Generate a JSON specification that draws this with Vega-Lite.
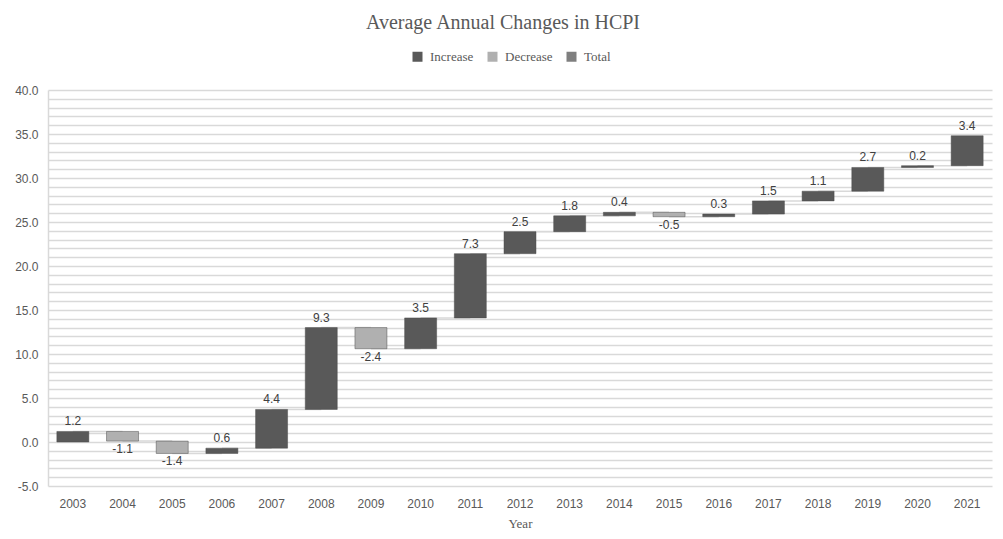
{
  "$schema": "https://vega.github.io/schema/vega-lite/v6.json",
  "width": 944,
  "height": 396,
  "autosize": {"type": "none"},
  "padding": {"left": 48, "top": 90, "right": 11, "bottom": 53},
  "background": "white",
  "title": {
    "text": "Average Annual Changes in HCPI",
    "font": "Liberation Serif",
    "fontSize": 20,
    "fontWeight": "normal",
    "color": "#595959",
    "anchor": "middle",
    "frame": "group",
    "dx": -17,
    "offset": 17
  },
  "config": {
    "view": {"stroke": null},
    "font": "Liberation Sans",
    "locale": {
      "number": {
        "decimal": ".",
        "thousands": ",",
        "grouping": [3],
        "currency": ["$", ""],
        "minus": "-"
      }
    }
  },
  "data": {
    "values": [
      {"year": "2003", "change": 1.2, "start": 0.0, "end": 1.2, "type": "Increase"},
      {"year": "2004", "change": -1.1, "start": 1.2, "end": 0.1, "type": "Decrease"},
      {"year": "2005", "change": -1.4, "start": 0.1, "end": -1.3, "type": "Decrease"},
      {"year": "2006", "change": 0.6, "start": -1.3, "end": -0.7, "type": "Increase"},
      {"year": "2007", "change": 4.4, "start": -0.7, "end": 3.7, "type": "Increase"},
      {"year": "2008", "change": 9.3, "start": 3.7, "end": 13.0, "type": "Increase"},
      {"year": "2009", "change": -2.4, "start": 13.0, "end": 10.6, "type": "Decrease"},
      {"year": "2010", "change": 3.5, "start": 10.6, "end": 14.1, "type": "Increase"},
      {"year": "2011", "change": 7.3, "start": 14.1, "end": 21.4, "type": "Increase"},
      {"year": "2012", "change": 2.5, "start": 21.4, "end": 23.9, "type": "Increase"},
      {"year": "2013", "change": 1.8, "start": 23.9, "end": 25.7, "type": "Increase"},
      {"year": "2014", "change": 0.4, "start": 25.7, "end": 26.1, "type": "Increase"},
      {"year": "2015", "change": -0.5, "start": 26.1, "end": 25.6, "type": "Decrease"},
      {"year": "2016", "change": 0.3, "start": 25.6, "end": 25.9, "type": "Increase"},
      {"year": "2017", "change": 1.5, "start": 25.9, "end": 27.4, "type": "Increase"},
      {"year": "2018", "change": 1.1, "start": 27.4, "end": 28.5, "type": "Increase"},
      {"year": "2019", "change": 2.7, "start": 28.5, "end": 31.2, "type": "Increase"},
      {"year": "2020", "change": 0.2, "start": 31.2, "end": 31.4, "type": "Increase"},
      {"year": "2021", "change": 3.4, "start": 31.4, "end": 34.8, "type": "Increase"}
    ]
  },
  "encoding": {
    "x": {
      "field": "year",
      "type": "ordinal",
      "sort": null,
      "scale": {"paddingInner": 0.356, "paddingOuter": 0.178},
      "axis": {
        "title": "Year",
        "titleFont": "Liberation Serif",
        "titleFontSize": 13,
        "titleFontWeight": "normal",
        "titleColor": "#595959",
        "titlePadding": 8,
        "labelAngle": 0,
        "labelFont": "Liberation Sans",
        "labelFontSize": 12,
        "labelColor": "#595959",
        "labelPadding": 12,
        "ticks": false,
        "domain": false,
        "grid": false
      }
    }
  },
  "layer": [
    {
      "mark": {"type": "rule", "color": "#d9d9d9", "strokeWidth": 1.5},
      "transform": [
        {"window": [{"op": "lead", "field": "year", "as": "next"}]},
        {"filter": "datum.next != null"}
      ],
      "encoding": {
        "x2": {"field": "next"},
        "y": {
          "field": "end",
          "type": "quantitative",
          "scale": {"domain": [-5, 40], "nice": false, "zero": false},
          "axis": {
            "title": null,
            "values": [-5, -4, -3, -2, -1, 0, 1, 2, 3, 4, 5, 6, 7, 8, 9, 10, 11, 12, 13, 14, 15, 16, 17, 18, 19, 20, 21, 22, 23, 24, 25, 26, 27, 28, 29, 30, 31, 32, 33, 34, 35, 36, 37, 38, 39, 40],
            "tickCount": 60,
            "labelExpr": "datum.value % 5 === 0 ? format(datum.value, '.1f') : ''",
            "labelOverlap": false,
            "labelBound": false,
            "labelFlush": false,
            "labelFont": "Liberation Sans",
            "labelFontSize": 12,
            "labelColor": "#595959",
            "labelPadding": 10,
            "ticks": false,
            "grid": true,
            "gridColor": "#d9d9d9",
            "gridWidth": 1.5,
            "domain": true,
            "domainColor": "#d9d9d9",
            "domainWidth": 1.5
          }
        }
      }
    },
    {
      "mark": {"type": "bar", "stroke": "#4a4a4a", "strokeWidth": 0.8, "strokeOpacity": 0.6},
      "encoding": {
        "y": {"field": "start", "type": "quantitative"},
        "y2": {"field": "end"},
        "color": {
          "field": "type",
          "type": "nominal",
          "scale": {
            "domain": ["Increase", "Decrease", "Total"],
            "range": ["#595959", "#b0b0b0", "#7f7f7f"]
          },
          "legend": {
            "title": null,
            "orient": "none",
            "direction": "horizontal",
            "legendX": 363,
            "legendY": -40,
            "symbolType": "square",
            "symbolSize": 100,
            "symbolStrokeWidth": 0,
            "labelFont": "Liberation Serif",
            "labelFontSize": 13,
            "labelColor": "#595959",
            "labelOffset": 6,
            "columnPadding": 12
          }
        }
      }
    },
    {
      "transform": [{"filter": "datum.change >= 0"}],
      "mark": {"type": "text", "baseline": "bottom", "dy": -3, "fontSize": 12, "color": "#404040", "font": "Liberation Sans"},
      "encoding": {
        "y": {"field": "end", "type": "quantitative"},
        "text": {"field": "change", "type": "quantitative", "format": ".1f"}
      }
    },
    {
      "transform": [{"filter": "datum.change < 0"}],
      "mark": {"type": "text", "baseline": "top", "dy": 3, "fontSize": 12, "color": "#404040", "font": "Liberation Sans"},
      "encoding": {
        "y": {"field": "end", "type": "quantitative"},
        "text": {"field": "change", "type": "quantitative", "format": ".1f"}
      }
    }
  ]
}
